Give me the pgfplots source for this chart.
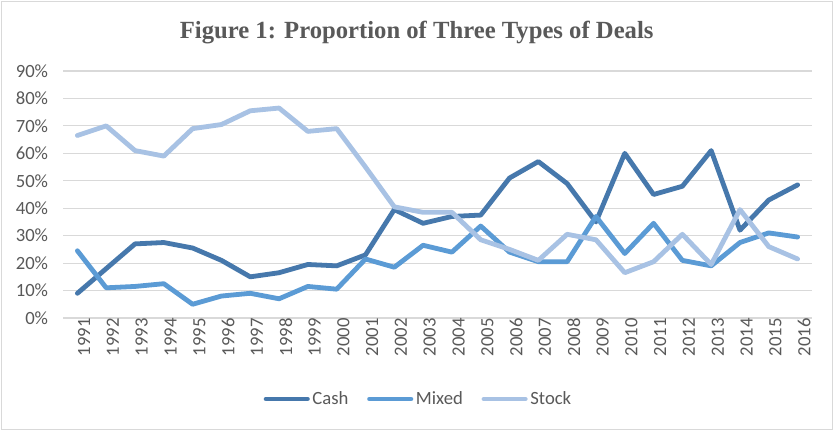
\documentclass[border=0pt]{standalone}
\usepackage{pgfplots}
\pgfplotsset{compat=1.18}
\usepackage{fontspec}
\setmainfont{Carlito}
\newfontfamily\titlefont{Liberation Serif}
\definecolor{cashc}{RGB}{70,120,172}
\definecolor{mixedc}{RGB}{91,155,213}
\definecolor{stockc}{RGB}{168,194,228}
\definecolor{gridc}{RGB}{217,217,217}
\definecolor{textc}{RGB}{89,89,89}
\begin{document}
\begin{tikzpicture}
% frame of the chart area
\fill[white] (0,0) rectangle (625.5pt,323.25pt);
\draw[gridc,line width=1pt] (1pt,1pt) rectangle (624.5pt,322.25pt);
\node[text=textc,font=\titlefont\bfseries\fontsize{18.5}{21}\selectfont] at (312.5pt,298.5pt) {Figure 1: Proportion of Three Types of Deals};
\begin{axis}[
  at={(47.25pt,84.75pt)}, anchor=south west,
  scale only axis,
  width=561.75pt, height=185.25pt,
  xmin=1990.5, xmax=2016.5,
  ymin=0, ymax=0.9,
  axis line style={draw=none},
  ymajorgrids=true,
  grid style={gridc,line width=0.9pt},
  major tick length=0pt,
  xtick={1991,...,2016},
  ytick={0,0.1,...,0.9},
  yticklabel={\pgfmathparse{100*\tick}\pgfmathprintnumber[fixed,precision=0]{\pgfmathresult}\%},
  xticklabel style={rotate=90,anchor=east,inner sep=0pt,yshift=-5pt,font=\fontsize{14}{16}\selectfont,text=textc},
  yticklabel style={anchor=east,inner sep=0pt,xshift=-11pt,font=\fontsize{14}{16}\selectfont,text=textc},
  x tick label style={/pgf/number format/1000 sep={}},
  /pgf/number format/assume math mode=true,
  clip=false,
  legend columns=3,
  legend style={at={(0.475,-0.328)},anchor=center,draw=none,fill=none,
    font=\fontsize{14}{16}\selectfont,text=textc,
    /tikz/every even column/.append style={column sep=12pt}},
  legend image code/.code={\draw[#1,line cap=round] (0pt,0pt) -- (31pt,0pt);},
  every axis plot/.append style={line width=3.6pt,line join=round,line cap=round},
]
\addplot[cashc] coordinates {
(1991,0.09) (1992,0.18) (1993,0.27) (1994,0.275) (1995,0.255) (1996,0.21)
(1997,0.15) (1998,0.165) (1999,0.195) (2000,0.19) (2001,0.23) (2002,0.395)
(2003,0.345) (2004,0.37) (2005,0.375) (2006,0.51) (2007,0.57) (2008,0.49)
(2009,0.35) (2010,0.60) (2011,0.45) (2012,0.48) (2013,0.61) (2014,0.32)
(2015,0.43) (2016,0.485)
};
\addlegendentry{Cash}
\addplot[mixedc] coordinates {
(1991,0.245) (1992,0.11) (1993,0.115) (1994,0.125) (1995,0.05) (1996,0.08)
(1997,0.09) (1998,0.07) (1999,0.115) (2000,0.105) (2001,0.215) (2002,0.185)
(2003,0.265) (2004,0.24) (2005,0.335) (2006,0.24) (2007,0.205) (2008,0.205)
(2009,0.37) (2010,0.235) (2011,0.345) (2012,0.21) (2013,0.19) (2014,0.275)
(2015,0.31) (2016,0.295)
};
\addlegendentry{Mixed}
\addplot[stockc] coordinates {
(1991,0.665) (1992,0.70) (1993,0.61) (1994,0.59) (1995,0.69) (1996,0.705)
(1997,0.755) (1998,0.765) (1999,0.68) (2000,0.69) (2001,0.55) (2002,0.405)
(2003,0.385) (2004,0.385) (2005,0.285) (2006,0.25) (2007,0.21) (2008,0.305)
(2009,0.285) (2010,0.165) (2011,0.205) (2012,0.305) (2013,0.195) (2014,0.395)
(2015,0.26) (2016,0.215)
};
\addlegendentry{Stock}
\end{axis}
\end{tikzpicture}
\end{document}
